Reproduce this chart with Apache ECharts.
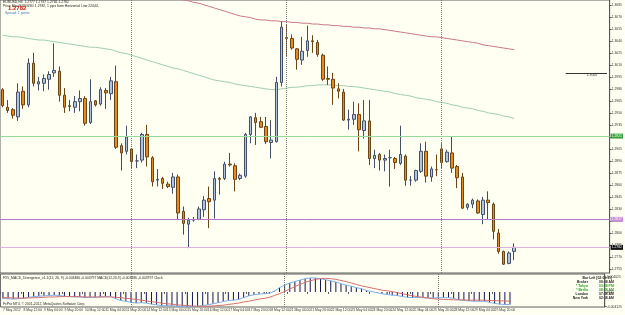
<!DOCTYPE html>
<html>
<head>
<meta charset="utf-8">
<script src="https://cdn.jsdelivr.net/npm/echarts@6/dist/echarts.min.js"></script>
<style>
  html, body { margin: 0; padding: 0; background: #fffff2; }
  #chart { width: 625px; height: 315px; }
</style>
</head>
<body>
<div id="chart"></div>
<script>
// EURUSD H4, 7 May 20:00 .. 30 May 08:00 2012 (broker time)
const sessions = [
  ['7 May', ['20:00']],
  ['8 May'], ['9 May'], ['10 May'], ['11 May'],
  ['14 May'], ['15 May'], ['16 May'], ['17 May'], ['18 May'],
  ['21 May'], ['22 May'], ['23 May'], ['24 May'], ['25 May'],
  ['28 May'], ['29 May'],
  ['30 May', ['00:00', '04:00', '08:00']]
];
const hours = ['00:00', '04:00', '08:00', '12:00', '16:00', '20:00'];

const timeLabels = ['7 May 2012', '8 May 12:00', '9 May 04:00', '9 May 20:00', '10 May 12:00',
  '11 May 04:00', '11 May 20:00', '14 May 12:00', '15 May 04:00', '15 May 20:00', '16 May 12:00',
  '17 May 04:00', '17 May 20:00', '18 May 12:00', '21 May 04:00', '21 May 20:00', '22 May 12:00',
  '23 May 04:00', '23 May 20:00', '24 May 12:00', '25 May 04:00', '25 May 20:00', '28 May 12:00',
  '29 May 04:00', '29 May 20:00'];

const priceTicks = [1.3085, 1.3070, 1.3055, 1.3040, 1.3025, 1.3010, 1.2995, 1.2980, 1.2965, 1.2950,
  1.2935, 1.2920, 1.2905, 1.2890, 1.2875, 1.2860, 1.2845, 1.2830, 1.2815, 1.2800, 1.2785, 1.2770, 1.2755];
const macdTicks = [0.004025, 0, -0.004125];
const macdTickLabels = ['0.004025', '0.00', '-0.004125'];

const opens = [1.2979,1.2957,1.2954,1.2945,1.2977,1.2960,1.3012,1.2986,1.2987,1.2992,
  1.3000,1.3002,1.2972,1.2959,1.2957,1.2964,1.2968,1.2938,1.2965,1.2961,
  1.2978,1.2974,1.2989,1.2909,1.2902,1.2905,1.2890,1.2891,1.2923,1.2894,
  1.2866,1.2868,1.2861,1.2857,1.2870,1.2827,1.2811,1.2816,1.2817,1.2829,
  1.2843,1.2841,1.2868,1.2868,1.2886,1.2884,1.2868,1.2871,1.2923,1.2944,
  1.2939,1.2933,1.2913,1.2914,1.2988,1.3044,1.3043,1.3030,1.3016,1.3028,
  1.3040,1.3038,1.3022,1.2993,1.2992,1.2980,1.2976,1.2941,1.2942,1.2948,
  1.2928,1.2940,1.2893,1.2898,1.2891,1.2894,1.2893,1.2887,1.2896,1.2866,
  1.2866,1.2877,1.2902,1.2870,1.2879,1.2905,1.2889,1.2900,1.2883,1.2870,
  1.2832,1.2836,1.2840,1.2823,1.2841,1.2836,1.2800,1.2777,1.2762,1.2777];
const highs = [1.2981,1.2966,1.2956,1.2987,1.2983,1.3018,1.3025,1.2995,1.2998,1.3002,
  1.3037,1.3008,1.2981,1.2966,1.2971,1.2978,1.2971,1.2992,1.2966,1.2982,
  1.2981,1.2995,1.3009,1.2912,1.2934,1.2906,1.2898,1.2925,1.2935,1.2896,
  1.2880,1.2870,1.2864,1.2875,1.2873,1.2833,1.2819,1.2820,1.2833,1.2846,
  1.2858,1.2877,1.2870,1.2889,1.2900,1.2887,1.2874,1.2925,1.2946,1.2950,
  1.2945,1.2945,1.2941,1.2995,1.3064,1.3060,1.3048,1.3031,1.3045,1.3059,
  1.3047,1.3041,1.3024,1.3008,1.3000,1.2987,1.2980,1.2954,1.2964,1.2962,
  1.2966,1.2966,1.2904,1.2900,1.2898,1.2904,1.2895,1.2934,1.2898,1.2871,
  1.2879,1.2912,1.2914,1.2883,1.2898,1.2912,1.2904,1.2920,1.2885,1.2875,
  1.2837,1.2843,1.2842,1.2845,1.2852,1.2838,1.2805,1.2778,1.2777,1.2787];
const lows = [1.2957,1.2950,1.2943,1.2940,1.2955,1.2957,1.2983,1.2978,1.2977,1.2979,
  1.2995,1.2964,1.2950,1.2952,1.2950,1.2952,1.2934,1.2936,1.2958,1.2959,
  1.2955,1.2966,1.2905,1.2878,1.2898,1.2881,1.2881,1.2888,1.2883,1.2858,
  1.2858,1.2855,1.2856,1.2849,1.2816,1.2798,1.2781,1.2814,1.2816,1.2820,
  1.2806,1.2818,1.2848,1.2866,1.2883,1.2852,1.2866,1.2869,1.2912,1.2910,
  1.2931,1.2911,1.2893,1.2913,1.2983,1.3020,1.3029,1.3004,1.3010,1.3020,
  1.3025,1.3020,1.2990,1.2985,1.2960,1.2968,1.2940,1.2929,1.2935,1.2902,
  1.2918,1.2885,1.2881,1.2878,1.2877,1.2858,1.2880,1.2885,1.2859,1.2859,
  1.2864,1.2875,1.2863,1.2864,1.2871,1.2881,1.2888,1.2875,1.2856,1.2830,
  1.2829,1.2831,1.2824,1.2811,1.2817,1.2792,1.2774,1.2760,1.2761,1.2766];
const closes = [1.2959,1.2953,1.2947,1.2976,1.2960,1.3012,1.2987,1.2989,1.2993,1.2998,
  1.3003,1.2972,1.2957,1.2958,1.2964,1.2968,1.2937,1.2964,1.2960,1.2979,
  1.2975,1.2990,1.2907,1.2900,1.2920,1.2889,1.2890,1.2923,1.2895,1.2864,
  1.2867,1.2862,1.2858,1.2870,1.2825,1.2812,1.2816,1.2817,1.2830,1.2841,
  1.2839,1.2868,1.2867,1.2886,1.2885,1.2867,1.2872,1.2923,1.2945,1.2938,
  1.2932,1.2914,1.2916,1.2988,1.3057,1.3043,1.3031,1.3017,1.3027,1.3040,
  1.3039,1.3023,1.2992,1.2992,1.2981,1.2977,1.2941,1.2942,1.2948,1.2929,
  1.2940,1.2893,1.2897,1.2891,1.2893,1.2894,1.2888,1.2898,1.2866,1.2866,
  1.2878,1.2902,1.2871,1.2880,1.2879,1.2888,1.2901,1.2881,1.2869,1.2831,
  1.2836,1.2841,1.2825,1.2841,1.2838,1.2802,1.2777,1.2761,1.2775,1.2782];

// moving averages as drawn on the chart
const maGreen = [1.3047,1.3046,1.3045,1.3045,1.3044,1.3043,1.3042,1.3041,1.3041,1.3040,
  1.3039,1.3038,1.3037,1.3036,1.3035,1.3034,1.3033,1.3032,1.3032,1.3031,
  1.3030,1.3029,1.3027,1.3025,1.3024,1.3022,1.3020,1.3018,1.3016,1.3014,
  1.3012,1.3010,1.3008,1.3006,1.3005,1.3003,1.3001,1.2999,1.2997,1.2995,
  1.2993,1.2991,1.2990,1.2989,1.2988,1.2986,1.2985,1.2984,1.2983,1.2982,
  1.2981,1.2980,1.2979,1.2979,1.2980,1.2981,1.2982,1.2982,1.2983,1.2984,
  1.2984,1.2985,1.2985,1.2985,1.2985,1.2984,1.2984,1.2983,1.2983,1.2982,
  1.2981,1.2980,1.2979,1.2978,1.2977,1.2976,1.2974,1.2973,1.2972,1.2971,
  1.2969,1.2968,1.2967,1.2966,1.2964,1.2963,1.2962,1.2960,1.2959,1.2957,
  1.2956,1.2955,1.2953,1.2952,1.2950,1.2949,1.2948,1.2946,1.2945,1.2943];
const maRed = [null,null,null,null,null,null,null,null,null,null,
  null,null,null,null,null,null,null,null,null,null,
  null,null,null,null,null,null,null,null,null,null,
  null,null,null,null,1.3093,1.3091,1.3090,1.3088,1.3087,1.3085,
  1.3083,1.3081,1.3079,1.3077,1.3075,1.3073,1.3071,1.3070,1.3069,1.3067,
  1.3066,1.3066,1.3065,1.3065,1.3064,1.3064,1.3063,1.3063,1.3062,1.3062,
  1.3061,1.3061,1.3060,1.3060,1.3059,1.3059,1.3058,1.3058,1.3057,1.3057,
  1.3056,1.3056,1.3055,1.3055,1.3054,1.3053,1.3052,1.3051,1.3050,1.3049,
  1.3048,1.3047,1.3046,1.3045,1.3045,1.3044,1.3043,1.3042,1.3041,1.3040,
  1.3039,1.3038,1.3037,1.3035,1.3034,1.3033,1.3032,1.3031,1.3030,1.3029];

// MACD panel
const macdHist = [-0.0018,-0.0019,-0.0020,-0.0019,-0.0018,-0.0015,-0.0013,-0.0012,-0.0011,-0.0010,
  -0.0009,-0.0010,-0.0012,-0.0013,-0.0014,-0.0014,-0.0016,-0.0015,-0.0015,-0.0014,
  -0.0013,-0.0012,-0.0019,-0.0024,-0.0026,-0.0029,-0.0031,-0.0030,-0.0031,-0.0034,
  -0.0036,-0.0038,-0.0039,-0.0038,-0.0040,-0.0041,-0.0041,-0.0041,-0.0040,-0.0038,
  -0.0036,-0.0033,-0.0030,-0.0027,-0.0024,-0.0023,-0.0021,-0.0016,-0.0011,-0.0008,
  -0.0006,-0.0005,-0.0004,0.0002,0.0012,0.0019,0.0025,0.0029,0.0033,0.0037,
  0.0039,0.0039,0.0037,0.0034,0.0031,0.0028,0.0023,0.0019,0.0016,0.0012,
  0.0009,0.0004,0.0001,-0.0002,-0.0005,-0.0007,-0.0009,-0.0010,-0.0013,-0.0015,
  -0.0016,-0.0015,-0.0016,-0.0017,-0.0017,-0.0016,-0.0016,-0.0016,-0.0018,-0.0022,
  -0.0024,-0.0025,-0.0026,-0.0026,-0.0026,-0.0029,-0.0032,-0.0034,-0.0035,-0.0035];
const macdSignal = [-0.0016,-0.0016,-0.0017,-0.0017,-0.0017,-0.0017,-0.0016,-0.0016,-0.0015,-0.0014,
  -0.0014,-0.0013,-0.0013,-0.0013,-0.0013,-0.0013,-0.0014,-0.0014,-0.0014,-0.0014,
  -0.0014,-0.0014,-0.0015,-0.0016,-0.0018,-0.0019,-0.0021,-0.0023,-0.0025,-0.0027,
  -0.0029,-0.0031,-0.0033,-0.0034,-0.0036,-0.0037,-0.0038,-0.0039,-0.0040,-0.0040,
  -0.0040,-0.0039,-0.0038,-0.0037,-0.0035,-0.0033,-0.0031,-0.0028,-0.0026,-0.0023,
  -0.0020,-0.0018,-0.0015,-0.0010,-0.0005,0.0001,0.0008,0.0015,0.0021,0.0027,
  0.0031,0.0035,0.0037,0.0038,0.0037,0.0035,0.0032,0.0029,0.0025,0.0021,
  0.0017,0.0014,0.0011,0.0008,0.0005,0.0003,0.0001,-0.0002,-0.0005,-0.0008,
  -0.0011,-0.0013,-0.0015,-0.0017,-0.0019,-0.0020,-0.0021,-0.0021,-0.0022,-0.0022,
  -0.0022,-0.0023,-0.0023,-0.0023,-0.0023,-0.0024,-0.0024,-0.0025,-0.0025,-0.0026];

// category axis: one slot per H4 bar plus the empty chart shift on the right
const categories = [];
sessions.forEach(s => (s[1] || hours).forEach(h => categories.push(s[0] + ' ' + h)));
while (categories.length < 118) categories.push('shift' + categories.length);

const candles = opens.map((o, i) => [o, closes[i], lows[i], highs[i]]);

const FONT = 'Liberation Sans';
const small = 3.4;
const labelAt = idx => idx % 4 === 0 && idx <= 96;
const separators = [25, 55, 85].map(i => ({ xAxis: categories[i] }));

const chart = echarts.init(document.getElementById('chart'));
chart.setOption({
  backgroundColor: '#fffff2',
  animation: false,
  grid: [
    { left: 0, right: 12, top: 0, height: 273, show: true, borderColor: '#606060', borderWidth: 1 },
    { left: 0, right: 12, top: 274, height: 33, show: true, borderColor: '#606060', borderWidth: 1 }
  ],
  xAxis: [
    { type: 'category', gridIndex: 0, data: categories, boundaryGap: true,
      axisLine: { show: false }, axisTick: { show: false }, axisLabel: { show: false } },
    { type: 'category', gridIndex: 1, data: categories, boundaryGap: true,
      axisLine: { show: false },
      axisTick: { show: true, interval: labelAt, length: 2, lineStyle: { color: '#555' } },
      axisLabel: { interval: labelAt, formatter: (v, i) => timeLabels[i / 4],
        fontSize: small, fontFamily: FONT, color: '#333', align: 'left', margin: 1.5 } }
  ],
  yAxis: [
    { type: 'value', gridIndex: 0, position: 'right', min: 1.2750, max: 1.3091,
      splitLine: { show: false },
      axisLine: { show: true, lineStyle: { color: '#555' } },
      axisTick: { show: true, length: 2, customValues: priceTicks, lineStyle: { color: '#555' } },
      axisLabel: { customValues: priceTicks, formatter: v => v.toFixed(4),
        fontSize: small, fontFamily: FONT, color: '#333', margin: 2 } },
    { type: 'value', gridIndex: 1, position: 'right', min: -0.0042, max: 0.0050,
      splitLine: { show: false },
      axisLine: { show: true, lineStyle: { color: '#555' } },
      axisTick: { show: true, length: 2, customValues: macdTicks, lineStyle: { color: '#555' } },
      axisLabel: { customValues: macdTicks,
        formatter: v => macdTickLabels[macdTicks.indexOf(v)] || '',
        fontSize: small, fontFamily: FONT, color: '#333', margin: 2 } }
  ],
  series: [
    {
      type: 'candlestick', xAxisIndex: 0, yAxisIndex: 0, data: candles, barWidth: 3,
      itemStyle: { color: '#b0c4de', color0: '#e8891c', borderColor: '#44506a',
        borderColor0: '#6b4516', borderWidth: 1 },
      markLine: {
        silent: true, symbol: ['none', 'none'], precision: 4,
        label: { fontSize: small, fontFamily: FONT },
        data: [
          ...separators.map(d => Object.assign({}, d, {
            lineStyle: { type: 'dotted', color: '#777', width: 1 }, label: { show: false } })),
          { yAxis: 1.2921, lineStyle: { type: 'solid', color: '#98d898', width: 1 },
            label: { show: true, position: 'end', distance: 1, formatter: '1.2921',
              backgroundColor: '#3ca03c', color: '#fff', padding: [1, 1], fontSize: small, fontFamily: FONT } },
          { yAxis: 1.2817, lineStyle: { type: 'solid', color: '#b47ac8', width: 1 },
            label: { show: true, position: 'end', distance: 1, formatter: '1.2817',
              backgroundColor: '#c58bd6', color: '#fff', padding: [1, 1], fontSize: small, fontFamily: FONT } },
          { yAxis: 1.2782, lineStyle: { type: 'solid', color: '#e2b0dc', width: 1 },
            label: { show: true, position: 'end', distance: 1, formatter: '1.2782',
              backgroundColor: '#111', color: '#fff', padding: [1, 1], fontSize: small, fontFamily: FONT } },
          [
            { coord: [categories[109], 1.3000], lineStyle: { type: 'solid', color: '#333', width: 1 },
              label: { show: true, position: 'insideEndBottom', distance: [10, 1], formatter: '1.3000',
                color: '#333', fontSize: small, fontFamily: FONT } },
            { coord: [categories[117], 1.3000] }
          ]
        ]
      }
    },
    { type: 'line', xAxisIndex: 0, yAxisIndex: 0, data: maGreen, symbol: 'none',
      lineStyle: { color: '#9fcfae', width: 1 }, z: 1 },
    { type: 'line', xAxisIndex: 0, yAxisIndex: 0, data: maRed, symbol: 'none',
      lineStyle: { color: '#c87888', width: 1 }, z: 1 },
    {
      type: 'bar', xAxisIndex: 1, yAxisIndex: 1, data: macdHist, barWidth: 1,
      itemStyle: { color: '#14145a' },
      markLine: {
        silent: true, symbol: ['none', 'none'], label: { show: false },
        lineStyle: { type: 'dotted', color: '#777', width: 1 },
        data: separators
      }
    },
    { type: 'line', xAxisIndex: 1, yAxisIndex: 1, data: macdHist, symbol: 'none',
      lineStyle: { color: '#7fb0e6', width: 1 } },
    { type: 'line', xAxisIndex: 1, yAxisIndex: 1, data: macdSignal, symbol: 'none',
      lineStyle: { color: '#d67070', width: 1 } }
  ],
  graphic: [
    { type: 'text', x: 3, y: 1, style: { text: 'EURUSD,H4  1.2777 1.2787 1.2766 1.2782',
      fontSize: small, fontFamily: FONT, fill: '#222' } },
    { type: 'text', x: 3, y: 4.5, style: { text: 'Price Alert EURUSD 1.2782, 1 pips from Horizontal Line 22044.',
      fontSize: small, fontFamily: FONT, fill: '#222' } },
    { type: 'text', x: 8, y: 5.5, style: { text: '1.2782', fontSize: 6, fontWeight: 'bold',
      fontFamily: FONT, fill: '#d01818' } },
    { type: 'text', x: 5, y: 12, style: { text: 'Spread: 1 points', fontSize: small,
      fontFamily: FONT, fill: '#4a76b8' } },
    { type: 'text', x: 3, y: 276.5, style: {
      text: 'FX5_MACD_Divergence_v1.1(12, 26, 9) -0.003486 -0.003797 MACD(12,26,9) -0.003486 -0.003797 Clock',
      fontSize: small, fontFamily: FONT, fill: '#222' } },
    { type: 'text', x: 3, y: 302.5, style: { text: 'FxPro MT4, © 2001-2012, MetaQuotes Software Corp.',
      fontSize: small, fontFamily: FONT, fill: '#222' } },
    { type: 'text', x: 612, y: 276.5, style: { text: 'Bar Left [02:00:11]', align: 'right',
      fontSize: small, fontWeight: 'bold', fontFamily: FONT, fill: '#222' } },
    ...[
      ['Broker', '09:58 AM', '#222'],
      ['* Tokyo', '03:58 PM', '#2a9a2a'],
      ['* Berlin', '08:58 AM', '#2a9a2a'],
      ['London', '07:58 AM', '#222'],
      ['New York', '02:58 AM', '#222']
    ].flatMap((r, k) => [
      { type: 'text', x: 588, y: 280.5 + k * 4, style: { text: r[0], align: 'right',
        fontSize: small, fontWeight: 'bold', fontFamily: FONT, fill: r[2] } },
      { type: 'text', x: 599, y: 280.5 + k * 4, style: { text: r[1],
        fontSize: small, fontWeight: 'bold', fontFamily: FONT, fill: r[2] } }
    ])
  ]
});
</script>
</body>
</html>
